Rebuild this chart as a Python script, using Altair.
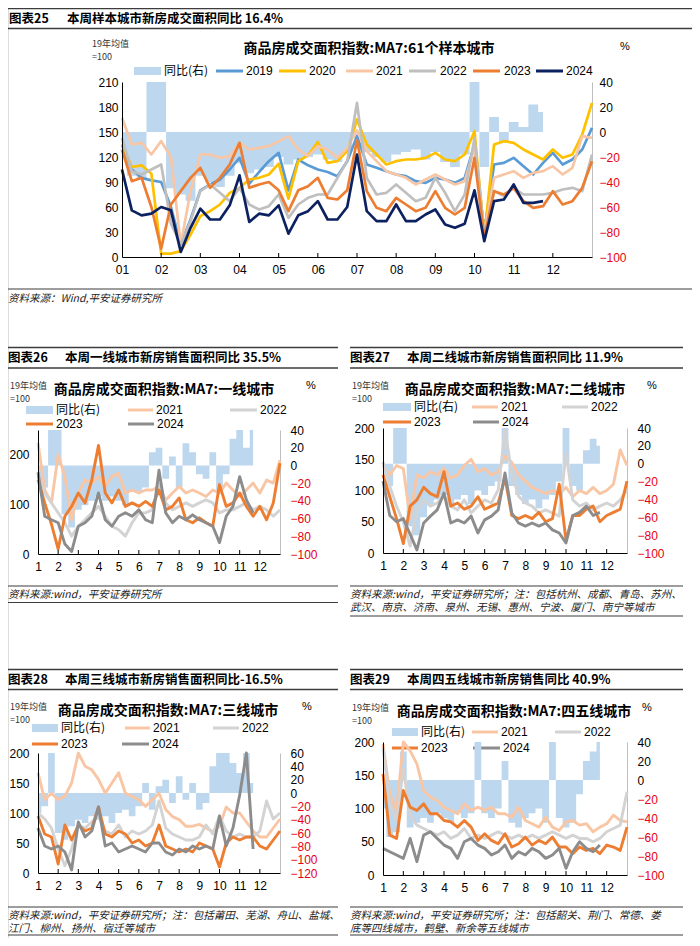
import altair as alt
import pandas as pd

# ---------------- data ----------------
MONTHS_25 = [i * 0.25 for i in range(49)]
MONTHS_S = [i / 3 for i in range(37)]
MONTH_TICKS = list(range(1, 12))

# Chart 25 : 61 sample cities
P25_YOY = [-20, -35, -38, 40, 40, -45, -50, -55, -35, -40, -44, -35, -25, -33, -30, -28, -20, -26, -22, -20,
           -18, -22, -24, -15, -5, -16, -20, -24, -18, -16, -14, -22, -16, -24, -28, -18, 40, -28, 12, -8,
           8, 4, 22, 16]
P25_2019 = [135, 105, 95, 92, 90, 60, 15, 45, 80, 87, 93, 105, 119, 88, 102, 115, 125, 80, 117, 110,
            105, 102, 97, 115, 145, 111, 107, 103, 99, 97, 91, 89, 95, 93, 89, 95, 135, 30, 111, 113,
            119, 109, 99, 113, 125, 111, 117, 129, 155]
P25_2020 = [135, 108, 110, 100, 4, 4, 7, 27, 49, 55, 63, 77, 83, 93, 95, 99, 112, 70, 115, 122,
            138, 113, 115, 127, 165, 135, 123, 111, 115, 117, 117, 119, 125, 117, 115, 123, 151, 25, 135, 139,
            137, 129, 123, 117, 129, 119, 123, 147, 185]
P25_2021 = [167, 135, 137, 123, 139, 120, 15, 79, 123, 123, 119, 121, 137, 129, 131, 133, 139, 145, 129, 121,
            133, 129, 119, 131, 152, 127, 115, 103, 99, 95, 87, 93, 99, 93, 87, 91, 131, 27, 95, 99,
            103, 95, 101, 103, 109, 99, 107, 145, 143]
P25_2022 = [143, 103, 99, 105, 111, 40, 15, 43, 79, 87, 77, 67, 83, 63, 57, 61, 75, 47, 63, 71,
            75, 75, 95, 115, 185, 95, 75, 77, 87, 77, 67, 71, 95, 77, 55, 75, 143, 25, 79, 73,
            83, 75, 75, 75, 77, 81, 83, 79, 123]
P25_2023 = [129, 91, 95, 60, 10, 63, 79, 95, 107, 83, 95, 111, 137, 83, 87, 90, 80, 55, 80, 85,
            95, 71, 69, 80, 140, 79, 59, 55, 71, 63, 55, 59, 79, 59, 51, 59, 119, 23, 79, 75,
            83, 67, 59, 61, 79, 63, 67, 83, 115]
P25_2024 = [105, 56, 50, 52, 60, 56, 6, 35, 58, 45, 45, 62, 98, 42, 52, 50, 62, 28, 50, 55,
            67, 45, 45, 60, 123, 55, 43, 43, 63, 43, 43, 51, 57, 39, 35, 40, 80, 19, 67, 69,
            87, 65, 65, 67]

# Chart 26 : tier-1 cities
P26_YOY = [-20, -25, 40, 40, -55, -70, -50, -45, -40, -35, -40, -35, -40, -45, -30, -30, -25, 15, 20, -15,
           10, -25, 25, 15, -10, -15, 15, -30, -10, 30, 40, 20, 40]
P26_2021 = [224, 129, 103, 200, 156, 69, 123, 149, 143, 156, 136, 156, 163, 123, 129, 123, 129, 129, 136, 109,
            123, 136, 123, 129, 123, 116, 129, 123, 143, 129, 116, 129, 143, 123, 149, 143, 189]
P26_2022 = [156, 123, 103, 83, 63, 36, 56, 69, 83, 96, 76, 56, 49, 36, 63, 83, 83, 89, 143, 103,
            89, 96, 103, 96, 103, 109, 103, 83, 89, 89, 96, 103, 89, 96, 89, 76, 89]
P26_2023 = [150, 103, 60, 10, 76, 96, 123, 103, 149, 219, 123, 103, 129, 96, 103, 96, 106, 96, 129, 89,
            96, 113, 69, 63, 73, 63, 56, 140, 96, 103, 123, 96, 76, 96, 69, 103, 183]
P26_2024 = [165, 76, 69, 63, 20, 5, 56, 63, 76, 123, 69, 56, 76, 83, 76, 89, 69, 63, 169, 83,
            63, 76, 69, 79, 69, 63, 56, 23, 76, 96, 156, 109, 83]

# Chart 27 : tier-2 cities
P27_YOY = [-15, -25, 40, 40, -70, -80, -60, -45, -40, -35, -45, -40, -35, -45, -30, -35, -25, -20, 40, -25,
           -35, -45, -40, -50, -40, -35, -20, 40, -25, -30, 15, 28, 20]
P27_2021 = [140, 125, 140, 135, 55, 125, 120, 130, 125, 135, 120, 125, 140, 150, 130, 135, 125, 130, 155, 145,
            125, 115, 105, 100, 95, 100, 95, 105, 90, 100, 95, 105, 95, 100, 110, 165, 140]
P27_2022 = [146, 107, 75, 50, 11, 69, 85, 75, 80, 91, 75, 69, 85, 64, 75, 85, 80, 101, 197, 128,
            91, 80, 75, 64, 69, 64, 59, 160, 85, 75, 80, 69, 75, 80, 75, 85, 101]
P27_2023 = [125, 90, 55, 15, 75, 85, 105, 95, 90, 130, 75, 80, 70, 75, 90, 70, 75, 80, 120, 60,
            55, 60, 55, 65, 50, 55, 110, 20, 60, 60, 70, 75, 50, 60, 65, 70, 115]
P27_2024 = [115, 60, 50, 55, 30, 5, 48, 59, 69, 96, 48, 53, 48, 59, 32, 53, 59, 69, 128, 64,
            48, 43, 48, 43, 48, 37, 32, 16, 60, 65, 75, 60, 65]

# Chart 28 : tier-3 cities
P28_YOY = [-30, -20, 60, -60, -70, -50, -40, -45, -35, -40, -35, -45, -30, -25, -35, -20, 15, -25, 10, 20,
           -15, 25, -10, 15, -25, -15, 40, 60, 60, 45, 30, 60, 15]
P28_2021 = [167, 122, 133, 122, 128, 150, 200, 178, 172, 156, 133, 150, 167, 133, 128, 122, 111, 122, 133, 106,
            94, 89, 78, 78, 81, 75, 69, 78, 110, 100, 100, 85, 70, 60, 60, 75, 90]
P28_2022 = [100, 90, 75, 40, 12, 40, 80, 75, 85, 95, 70, 65, 80, 60, 70, 65, 70, 80, 120, 75,
            65, 60, 55, 55, 60, 80, 65, 95, 70, 60, 65, 60, 60, 70, 120, 90, 100]
P28_2023 = [95, 65, 60, 15, 80, 55, 80, 70, 75, 110, 65, 60, 70, 65, 50, 55, 45, 50, 80, 45,
            40, 35, 40, 35, 50, 45, 40, 10, 50, 60, 55, 60, 60, 45, 40, 55, 70]
P28_2024 = [75, 45, 40, 45, 35, 5, 85, 60, 70, 110, 45, 50, 35, 40, 45, 40, 35, 50, 50, 35,
            30, 40, 35, 45, 40, 45, 40, 95, 45, 75, 130, 200, 40]

# Chart 29 : tier-4/5 cities
P29_YOY = [-30, -60, -55, 30, -50, -45, -40, -45, -35, -40, -45, -35, -40, -35, 40, -35, -40, -30, 20, -45,
           -50, -40, -35, -30, -45, 40, -40, -50, -45, -15, 20, 30, 40]
P29_2021 = [197, 122, 97, 200, 187, 167, 127, 117, 112, 102, 97, 92, 107, 97, 102, 97, 102, 92, 92, 87,
            102, 82, 77, 72, 87, 72, 67, 80, 82, 75, 77, 65, 72, 77, 90, 82, 80]
P29_2022 = [190, 110, 80, 160, 90, 75, 70, 65, 60, 65, 55, 60, 70, 55, 60, 55, 60, 65, 60, 55,
            60, 55, 60, 55, 60, 65, 60, 55, 60, 55, 55, 50, 55, 65, 70, 75, 125]
P29_2023 = [152, 60, 55, 127, 102, 97, 107, 92, 92, 82, 80, 72, 82, 72, 52, 62, 52, 47, 62, 42,
            47, 57, 45, 52, 47, 57, 42, 42, 32, 42, 37, 40, 32, 45, 42, 37, 72]
P29_2024 = [40, 35, 30, 25, 55, 20, 60, 65, 55, 45, 40, 25, 50, 55, 45, 40, 30, 35, 45, 25,
            35, 30, 40, 35, 25, 30, 40, 10, 35, 50, 40, 35, 45]

NAMES_25 = ["2019", "2020", "2021", "2022", "2023", "2024"]
COLORS_25 = ["#5b9bd5", "#ffc000", "#f8c6a4", "#bfbfbf", "#ed7d31", "#0c2160"]
NAMES_S = ["2021", "2022", "2023", "2024"]
COLORS_S = ["#f8c6a4", "#d3d3d3", "#ed7d31", "#8c8c8c"]

# ---------------- helpers ----------------
OFF = 8
W, H = 684, 930
CJK = "Noto Sans CJK SC"
NUM = "Liberation Sans"
BAR = "#bdd7ee"
RED = "#e60012"
DUMMY = alt.Data(values=[{"k": 0}])


def txt(s, x, y, size=12, weight="normal", align="left", font=CJK, color="#000000", style="normal"):
    return alt.Chart(DUMMY).mark_text(
        text=s, fontSize=size, fontWeight=weight, align=align, font=font,
        color=color, fontStyle=style, baseline="middle"
    ).encode(x=alt.value(x - OFF), y=alt.value(y - OFF))


def hline(x1, x2, y, color="#3c3c3c", width=1.5):
    return alt.Chart(DUMMY).mark_rule(color=color, strokeWidth=width).encode(
        x=alt.value(x1 - OFF), x2=alt.value(x2 - OFF), y=alt.value(y - OFF))


def patch(x1, x2, y, color=BAR, h=8):
    return alt.Chart(DUMMY).mark_rect(color=color).encode(
        x=alt.value(x1 - OFF), x2=alt.value(x2 - OFF),
        y=alt.value(y - OFF - h / 2), y2=alt.value(y - OFF + h / 2))


def panel(x0, x1, ytop, ybot, grid, names, series, colors, yoy, ldom, lticks, rdom, rticks,
          two_digit, lw, lpad, rpad):
    yb, yt = ybot - OFF, ytop - OFF
    xs = alt.Scale(domain=[0, 12], range=[x0 - OFF, x1 - OFF], nice=False, zero=False)
    lab = "(datum.value < 9 ? '0' : '') + (datum.value + 1)" if two_digit else "'' + (datum.value + 1)"
    dfb = pd.DataFrame({"m": grid[:len(yoy)], "v": yoy})
    bars = alt.Chart(dfb).mark_area(interpolate="step", color=BAR).encode(
        x=alt.X("m:Q", scale=xs, axis=alt.Axis(
            orient="bottom", offset=yb - H, values=list(range(12)), labelExpr=lab,
            domainColor="#000000", domainWidth=1, ticks=False, labelFont=NUM, labelFontSize=12,
            labelColor="#000000", labelPadding=7, grid=False, title=None, labelFlush=False,
            labelOverlap=False, zindex=1)),
        y=alt.Y("v:Q", scale=alt.Scale(domain=rdom, range=[yb, yt], nice=False, zero=False),
                axis=alt.Axis(orient="right", offset=(x1 - OFF) - W, values=rticks,
                              domainColor="#bfbfbf", domainWidth=1, ticks=False, labelFont=NUM,
                              labelFontSize=12, labelPadding=rpad, grid=False, title=None,
                              labelOverlap=False, labelFlush=False,
                              labelColor={"expr": "datum.value < 0 ? '%s' : '#000000'" % RED})),
        y2=alt.datum(0),
    )
    rows = []
    for name, vals in zip(names, series):
        for xi, v in zip(grid, vals):
            rows.append({"m": xi, "v": v, "s": name})
    dfl = pd.DataFrame(rows)
    lines = alt.Chart(dfl).mark_line(strokeWidth=lw, strokeJoin="round").encode(
        x=alt.X("m:Q", scale=xs, axis=None),
        y=alt.Y("v:Q", scale=alt.Scale(domain=ldom, range=[yb, yt], nice=False, zero=False),
                axis=alt.Axis(orient="left", offset=-(x0 - OFF), values=lticks,
                              domainColor="#000000", domainWidth=1, ticks=False, labelFont=NUM,
                              labelFontSize=12, labelColor="#000000", labelPadding=lpad,
                              grid=False, title=None, labelOverlap=False, labelFlush=False,
                              zindex=1)),
        color=alt.Color("s:N", scale=alt.Scale(domain=names, range=colors), legend=None),
        detail="s:N",
    )
    dft = pd.DataFrame({"m": MONTH_TICKS})
    ticks = alt.Chart(dft).mark_rule(color="#000000", strokeWidth=1).encode(
        x=alt.X("m:Q", scale=xs, axis=None),
        y=alt.value(yb), y2=alt.value(yb - 4),
    )
    return [bars, lines, ticks]


layers = []

# ================= Chart 25 =================
layers += [
    hline(8, 692, 8.5), hline(8, 692, 28.5),
    txt("图表25", 9, 18.5, 12.5, "bold"),
    txt("本周样本城市新房成交面积同比 16.4%", 67, 18.5, 12.5, "bold"),
    txt("19年均值", 92, 44, 9, color="#333333"),
    txt("=100", 92, 57, 9, color="#333333"),
    txt("商品房成交面积指数:MA7:61个样本城市", 369, 49, 14, "bold", "center"),
    txt("%", 625, 47, 11, align="center", font=NUM),
    patch(134, 161, 71), txt("同比(右)", 164, 71, 12),
]
leg25 = [(216, 243, 246), (279, 306, 309), (346, 373, 376), (409, 436, 440), (473, 500, 504), (536, 563, 566)]
for (a, b, t), nm, col in zip(leg25, NAMES_25, COLORS_25):
    layers += [hline(a, b, 71, col, 3), txt(nm, t, 71, 12, font=NUM)]
layers += panel(122, 592, 82, 257, MONTHS_25, NAMES_25,
                [P25_2019, P25_2020, P25_2021, P25_2022, P25_2023, P25_2024],
                COLORS_25, P25_YOY, [0, 210], list(range(0, 211, 30)), [-100, 40],
                list(range(-100, 41, 20)), True, 2.7, 4, 7)
layers += [
    hline(8, 692, 289, "#3c3c3c", 1.2),
    txt("资料来源：Wind,平安证券研究所", 8, 298.5, 10.5, style="italic", color="#222222"),
]


# ================= small panels =================
def small(xl, xr, hy, num, head, yy, title, title_cx, pct_x, leg, plot, ydoms, foot_lines, foot_y, foot_end):
    out = [
        hline(xl, xr, hy[0]), hline(xl, xr, hy[2]),
        txt(num, xl + 0, hy[1], 12.5, "bold"),
        txt(head, xl + 57, hy[1], 12.5, "bold"),
        txt("19年均值", xl + 2, yy, 9, color="#333333"),
        txt("=100", xl + 2, yy + 13, 9, color="#333333"),
        txt(title, title_cx, yy + 4, 14, "bold", "center"),
        txt("%", pct_x, yy, 11, align="center", font=NUM),
    ]
    (r1y, r2y, pa, pb, c1a, c1b, c2a, c2b, r2a, r2b, r2c, r2d) = leg
    out += [patch(pa, pb, r1y), txt("同比(右)", pb + 3, r1y, 12)]
    out += [hline(c1a, c1b, r1y, COLORS_S[0], 3), txt("2021", c1b + 3, r1y, 12, font=NUM)]
    out += [hline(c2a, c2b, r1y, COLORS_S[1], 3), txt("2022", c2b + 3, r1y, 12, font=NUM)]
    out += [hline(r2a, r2b, r2y, COLORS_S[2], 3), txt("2023", r2b + 3, r2y, 12, font=NUM)]
    out += [hline(r2c, r2d, r2y, COLORS_S[3], 3), txt("2024", r2d + 3, r2y, 12, font=NUM)]
    x0, x1, yt, yb, series, yoy = plot
    ldom, lt, rdom, rt = ydoms
    out += panel(x0, x1, yt, yb, MONTHS_S, NAMES_S, series, COLORS_S, yoy, ldom, lt, rdom, rt,
                 False, 2.9, 9, 10)
    out += [hline(xl, xr, foot_y, "#3c3c3c", 1.2)]
    for i, line in enumerate(foot_lines):
        out += [txt(line, xl, foot_y + 8.5 + 13.5 * i, 10.5, style="italic", color="#222222")]
    out += [hline(xl, xr, foot_end, "#3c3c3c", 1.2)]
    return out


layers += small(8, 338, (347.5, 358, 368), "图表26", "本周一线城市新房销售面积同比 35.5%", 386,
                "商品房成交面积指数:MA7:一线城市", 164, 311,
                (410, 424, 26, 53, 128, 153, 230, 257, 26, 53, 128, 154),
                (38, 280, 430, 554, [P26_2021, P26_2022, P26_2023, P26_2024], P26_YOY),
                ([0, 250], [0, 100, 200], [-100, 40], list(range(-100, 41, 20))),
                ["资料来源:wind，平安证券研究所"], 586, 602.5)

layers += small(350, 683, (347.5, 358, 368), "图表27", "本周二线城市新房销售面积同比 11.9%", 386,
                "商品房成交面积指数:MA7:二线城市", 515, 652,
                (407, 422, 383, 411, 472, 498, 562, 588, 383, 411, 473, 499),
                (383, 627, 428, 553, [P27_2021, P27_2022, P27_2023, P27_2024], P27_YOY),
                ([0, 200], [0, 50, 100, 150, 200], [-100, 40], list(range(-100, 41, 20))),
                ["资料来源:wind，平安证券研究所；注：包括杭州、成都、青岛、苏州、",
                 "武汉、南京、济南、泉州、无锡、惠州、宁波、厦门、南宁等城市"], 586, 616)

layers += small(8, 338, (669.5, 680, 689.5), "图表28", "本周三线城市新房销售面积同比-16.5%", 707,
                "商品房成交面积指数:MA7:三线城市", 168, 307,
                (728, 744, 32, 58, 125, 150, 213, 239, 32, 58, 122, 149),
                (38, 280, 753, 873, [P28_2021, P28_2022, P28_2023, P28_2024], P28_YOY),
                ([0, 200], [0, 50, 100, 150, 200], [-120, 60], list(range(-120, 61, 20))),
                ["资料来源:wind，平安证券研究所；注：包括莆田、芜湖、舟山、盐城、",
                 "江门、柳州、扬州、宿迁等城市"], 907, 935)

layers += small(350, 683, (669.5, 680, 689.5), "图表29", "本周四五线城市新房销售同比 40.9%", 708,
                "商品房成交面积指数:MA7:四五线城市", 514, 647,
                (732, 748, 392, 418, 472, 498, 555, 581, 392, 418, 473, 500),
                (383, 627, 742, 875, [P29_2021, P29_2022, P29_2023, P29_2024], P29_YOY),
                ([0, 200], [0, 50, 100, 150, 200], [-100, 40], list(range(-100, 41, 20))),
                ["资料来源:wind，平安证券研究所；注：包括韶关、荆门、常德、娄",
                 "底等四线城市，鹤壁、新余等五线城市"], 907, 935)

chart = alt.layer(*layers).resolve_scale(
    x="independent", y="independent", color="independent"
).resolve_axis(
    x="independent", y="independent"
).properties(
    width=W, height=H, autosize=alt.AutoSizeParams(type="none"), padding=0
).configure_view(stroke=None).configure(background="white")

chart.save("out.html", embed_options={"renderer": "svg", "actions": False})
